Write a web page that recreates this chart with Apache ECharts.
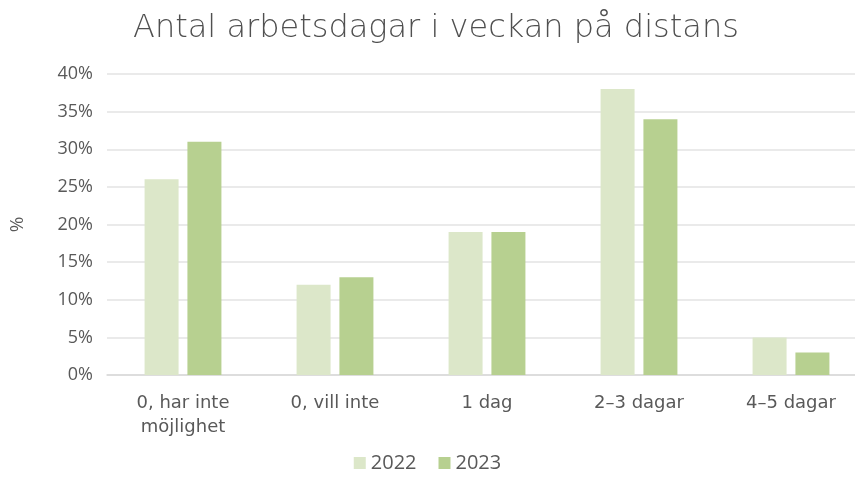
<!DOCTYPE html>
<html lang="sv">
<head>
<meta charset="UTF-8">
<title>Antal arbetsdagar i veckan på distans</title>
<script src="https://cdn.jsdelivr.net/npm/echarts@6/dist/echarts.min.js"></script>
<style>
  html,body{margin:0;height:100%;background:#fff;}
  #chart{width:855px;height:482px;}
</style>
</head>
<body>
<div id="chart"></div>
<script>
const categories = ['0, har inte\nmöjlighet','0, vill inte','1 dag','2–3 dagar','4–5 dagar'];
const values2022 = [26,12,19,38,5];
const values2023 = [31,13,19,34,3];

const font = '"Open Sans","Noto Sans",sans-serif';
const wide = '"DejaVu Sans","Open Sans",sans-serif';
const grey = '#595959';
const myChart = echarts.init(document.getElementById('chart'));

myChart.setOption({
  textStyle:{fontFamily:font},
  title:{
    text:'Antal arbetsdagar i veckan på distans',
    left:128, top:8,
    textStyle:{fontSize:32,fontWeight:200,color:'#505050',fontFamily:wide}
  },
  legend:{
    bottom:4, left:'center',
    itemWidth:12, itemHeight:12, itemGap:22,
    icon:'rect',
    textStyle:{fontSize:20,color:grey}
  },
  // plot area runs past the right edge, as in the cropped original
  grid:{left:107,width:760,top:74,bottom:107,outerBoundsMode:'none'},
  xAxis:{
    type:'category', data:categories,
    axisTick:{show:false},
    axisLine:{lineStyle:{color:'#d9d9d9',width:1.5}},
    axisLabel:{fontSize:18,color:grey,margin:16,lineHeight:24,fontFamily:wide}
  },
  yAxis:{
    type:'value', min:0, max:40, interval:5,
    name:'%', nameLocation:'middle', nameGap:80, nameRotate:90,
    nameTextStyle:{fontSize:19,color:grey},
    axisLabel:{fontSize:18,color:grey,margin:14,formatter:'{value}%'},
    splitLine:{lineStyle:{color:'#e3e3e3',width:1.5}}
  },
  series:[
    {name:'2022',type:'bar',data:values2022,barWidth:34,barGap:'26%',itemStyle:{color:'#dce7c9'}},
    {name:'2023',type:'bar',data:values2023,barWidth:34,itemStyle:{color:'#b7d090'}}
  ]
});
</script>
</body>
</html>
